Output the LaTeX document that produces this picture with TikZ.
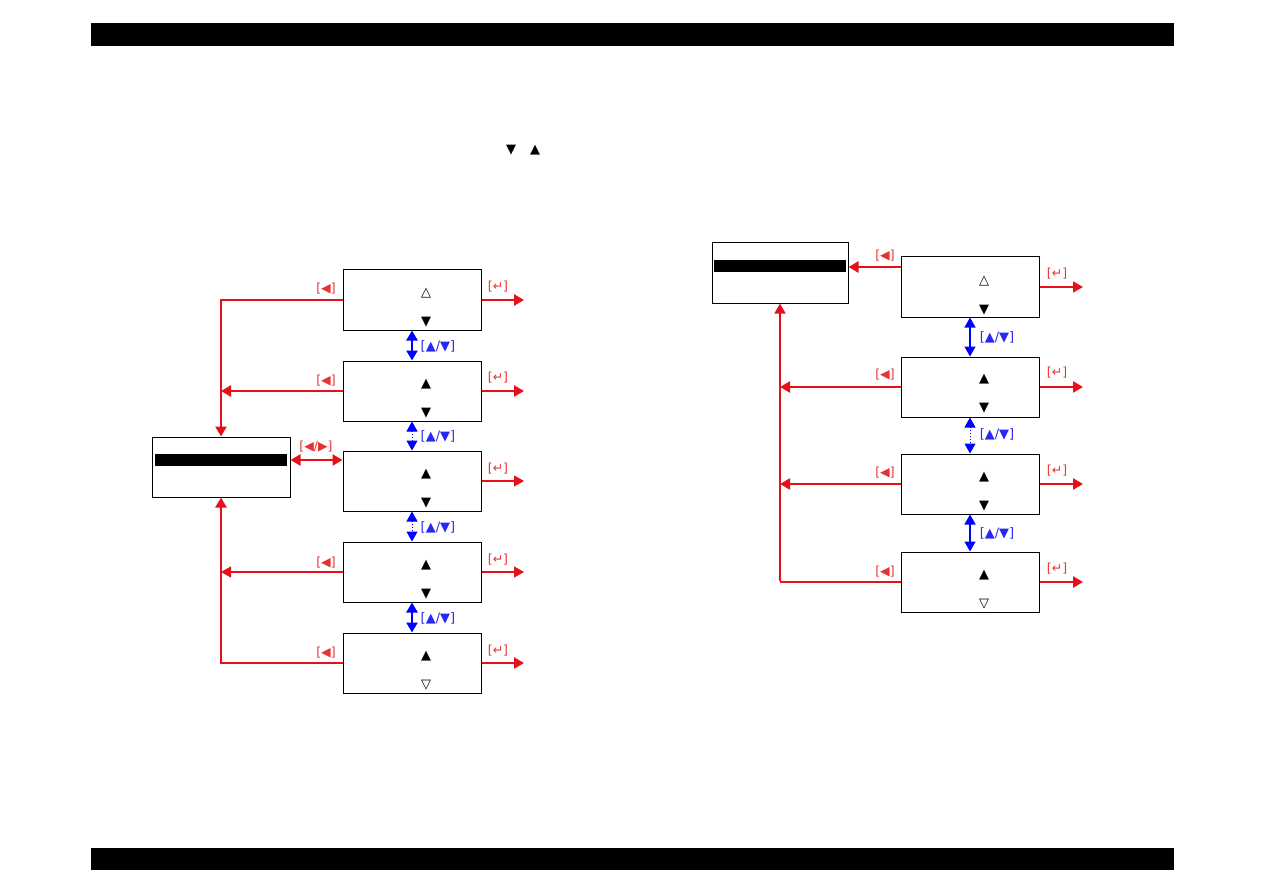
\documentclass[tikz,border=0pt]{standalone}
\usepackage{fontspec}
\newfontfamily\sym{DejaVu Sans}
\usetikzlibrary{arrows.meta}
\definecolor{myred}{RGB}{232,16,24}
\definecolor{lred}{RGB}{232,50,50}
\definecolor{darkr}{RGB}{210,16,40}
\definecolor{myblue}{RGB}{0,0,255}
\definecolor{lblue}{RGB}{40,40,240}
\tikzset{
  box/.style={draw=black,line width=1pt,minimum width=138pt,minimum height=60pt,inner sep=0pt},
  tri/.style={font=\sym\fontsize{13}{15}\selectfont,inner sep=0pt},
  rlab/.style={font=\sym\fontsize{12.5}{15}\selectfont,text=lred,inner sep=0pt},
  blab/.style={font=\sym\fontsize{13}{15}\selectfont,text=lblue,inner sep=0pt},
  rthick/.style={draw=myred,line width=2.6pt,-{Triangle[length=10pt,width=11pt]}},
  rthin/.style={draw=myred,line width=1.3pt,-{Triangle[length=10pt,width=11pt]}},
  rline/.style={draw=myred,line width=2.6pt},
  rdouble/.style={draw=myred,line width=2.6pt,{Triangle[length=10pt,width=11pt]}-{Triangle[length=10pt,width=11pt]}},
  bthick/.style={draw=myblue,line width=2.6pt,{Triangle[length=10pt,width=11pt]}-{Triangle[length=10pt,width=11pt]}},
  bthin/.style={draw=myblue,line width=1.3pt,{Triangle[length=10pt,width=11pt]}-{Triangle[length=10pt,width=11pt]}},
  bdot/.style={draw=myblue,line width=1pt,dotted,{Triangle[length=10pt,width=11pt]}-{Triangle[length=10pt,width=11pt]}},
}
\begin{document}
\begin{tikzpicture}[x=1pt,y=-1pt]
\useasboundingbox (0,0) rectangle (1263,893);
\fill[black] (91,23) rectangle (1174,46);
\fill[black] (91,848) rectangle (1174,870);
\node[tri] (t1) at (511,150) {▼};
\node[tri] (t2) at (535,150) {▲};

% ---------- left diagram ----------
\node[box] (L1) at (412,300) {};
\node[box] (L2) at (412,391) {};
\node[box] (L3) at (412,481) {};
\node[box] (L4) at (412,572) {};
\node[box] (L5) at (412,663) {};
\node[box] (LM) at (221,467) {};
\fill[black] (155,454) rectangle (287,466);

\node[tri] (L1u) at (426,293) {△};
\node[tri] (L1d) at (426,322) {▼};
\node[tri] (L2u) at (426,384) {▲};
\node[tri] (L2d) at (426,413) {▼};
\node[tri] (L3u) at (426,474) {▲};
\node[tri] (L3d) at (426,503) {▼};
\node[tri] (L4u) at (426,565) {▲};
\node[tri] (L4d) at (426,594) {▼};
\node[tri] (L5u) at (426,656) {▲};
\node[tri] (L5d) at (426,685) {▽};

\coordinate (LE1) at (524,300);
\coordinate (LE2) at (524,391);
\coordinate (LE3) at (524,481);
\coordinate (LE4) at (524,572);
\coordinate (LE5) at (524,663);

\draw[rthick] (L1.west) -| (LM.north);
\draw[rthick] (L2.west) -- (L2.west -| LM.north);
\draw[rdouble] ([yshift=7pt]LM.east) -- ([yshift=7pt]LM.east -| L3.west);
\draw[rthin] (L4.west) -- (L4.west -| LM.north);
\draw[rthick] (L5.west) -| (LM.south);

\draw[rthick] (L1.east) -- (LE1);
\draw[rthick] (L2.east) -- (LE2);
\draw[rthin] (L3.east) -- (LE3);
\draw[rthin] (L4.east) -- (LE4);
\draw[rthick] (L5.east) -- (LE5);

\draw[bthick] (L1.south) -- (L2.north);
\draw[bdot] (L2.south) -- (L3.north);
\draw[bdot] (L3.south) -- (L4.north);
\draw[bthick] (L4.south) -- (L5.north);

\node[rlab] (la1) at (326,289) {[◀]};
\node[rlab] (la2) at (326,381) {[◀]};
\node[rlab] (la3) at (316,447) {[◀/▶]};
\node[rlab] (la4) at (326,563) {[◀]};
\node[rlab] (la5) at (326,653) {[◀]};
\node[rlab] (le1) at (498,287) {[↵]};
\node[rlab] (le2) at (498,378) {[↵]};
\node[rlab] (le3) at (498,469) {[↵]};
\node[rlab] (le4) at (498,560) {[↵]};
\node[rlab] (le5) at (498,651) {[↵]};
\node[blab] (lb1) at (438,346) {[▲/▼]};
\node[blab] (lb2) at (438,436) {[▲/▼]};
\node[blab] (lb3) at (438,527) {[▲/▼]};
\node[blab] (lb4) at (438,618) {[▲/▼]};

% ---------- right diagram ----------
\node[box] (R1) at (970,287) {};
\node[box] (R2) at (970,387) {};
\node[box] (R3) at (970,484) {};
\node[box] (R4) at (970,582) {};
\node[box,minimum width=136pt] (RM) at (780,273) {};
\fill[black] (714,260) rectangle (846,272);

\node[tri] (R1u) at (984,281) {△};
\node[tri] (R1d) at (984,310) {▼};
\node[tri] (R2u) at (984,379) {▲};
\node[tri] (R2d) at (984,408) {▼};
\node[tri] (R3u) at (984,477) {▲};
\node[tri] (R3d) at (984,506) {▼};
\node[tri] (R4u) at (984,575) {▲};
\node[tri] (R4d) at (984,604) {▽};

\coordinate (RE1) at (1083,287);
\coordinate (RE2) at (1083,387);
\coordinate (RE3) at (1083,484);
\coordinate (RE4) at (1083,582);
\coordinate (rc) at (RM.south |- R4.west);

\draw[rthick] ([yshift=20pt]R1.west) -- ([yshift=20pt]R1.west -| RM.east);
\draw[rthick] (R2.west) -- (R2.west -| RM.south);
\draw[rthick] (R3.west) -- (R3.west -| RM.south);
\draw[rline] (R4.west) -- (rc);
\draw[draw=myred,line width=1.3pt,-{Triangle[length=10pt,width=11pt,fill=darkr]}] ([yshift=0.6pt]rc) -- (RM.south);

\draw[rthin] (R1.east) -- (RE1);
\draw[rthick] (R2.east) -- (RE2);
\draw[rthick] (R3.east) -- (RE3);
\draw[rthick] (R4.east) -- (RE4);

\draw[bthin] (R1.south) -- (R2.north);
\draw[bdot] (R2.south) -- (R3.north);
\draw[bthin] (R3.south) -- (R4.north);

\node[rlab] (ra1) at (885,256) {[◀]};
\node[rlab] (ra2) at (885,375) {[◀]};
\node[rlab] (ra3) at (885,473) {[◀]};
\node[rlab] (ra4) at (885,572) {[◀]};
\node[rlab] (re1) at (1057,274) {[↵]};
\node[rlab] (re2) at (1057,373) {[↵]};
\node[rlab] (re3) at (1057,471) {[↵]};
\node[rlab] (re4) at (1057,569) {[↵]};
\node[blab] (rb1) at (997,337) {[▲/▼]};
\node[blab] (rb2) at (997,434) {[▲/▼]};
\node[blab] (rb3) at (997,533) {[▲/▼]};
\end{tikzpicture}
\end{document}
